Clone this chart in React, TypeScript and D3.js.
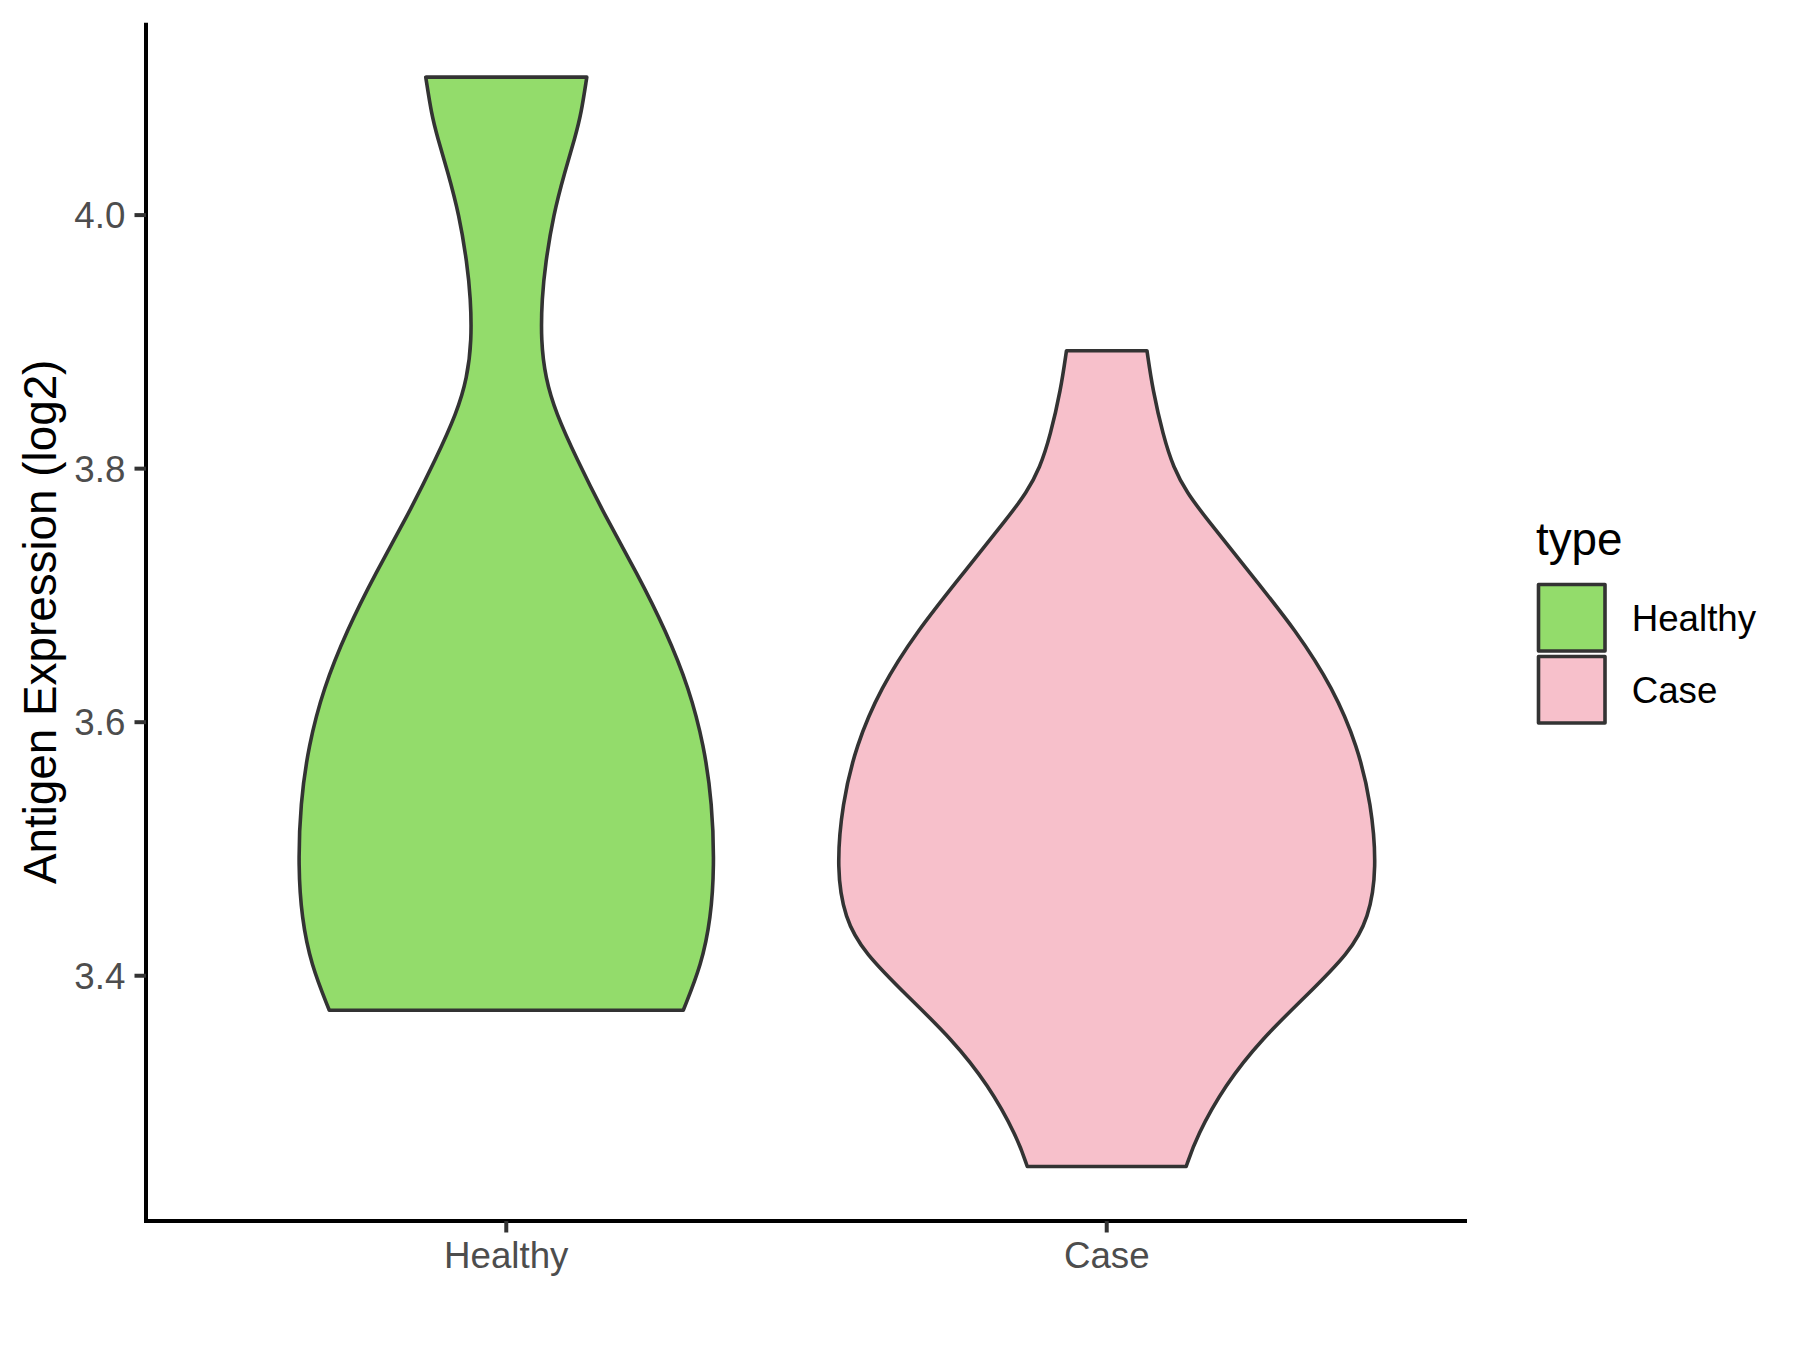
import React from "react";
import * as d3 from "d3";

const categories = ["Healthy", "Case"];
const fills = ["#93DC6B", "#F7C0CB"];

// Density profiles: value (log2) and relative half-width (Case max = 1)
const healthyValues = [3.3728, 3.4091, 3.4453, 3.4861, 3.5359, 3.5813, 3.6266, 3.6719, 3.7172, 3.7625, 3.8079, 3.8441, 3.8713, 3.9012, 3.9347, 3.9619, 4.0, 4.0344, 4.0616, 4.0798, 4.1088];
const healthyDensity = [0.655, 0.723, 0.757, 0.770, 0.762, 0.732, 0.677, 0.591, 0.485, 0.366, 0.260, 0.183, 0.145, 0.128, 0.132, 0.145, 0.174, 0.217, 0.255, 0.277, 0.298];

const caseValues = [3.2495, 3.2731, 3.314, 3.3502, 3.3837, 3.4181, 3.4453, 3.4843, 3.5359, 3.5813, 3.6266, 3.6719, 3.7172, 3.7625, 3.7807, 3.8006, 3.826, 3.8622, 3.893];
const caseDensity = [0.294, 0.332, 0.438, 0.574, 0.736, 0.898, 0.970, 1.0, 0.979, 0.928, 0.838, 0.702, 0.532, 0.362, 0.298, 0.247, 0.209, 0.170, 0.149];

const yTicks = [3.4, 3.6, 3.8, 4.0];
const yTitle = "Antigen Expression (log2)";
const legendTitle = "type";

const W = 1800, H = 1350;
const panel = { left: 146, right: 1467, top: 22.7, bottom: 1221 };
const FONT = "'Liberation Sans', Arial, sans-serif";

export default function App() {
  const dataMin = Math.min(d3.min(healthyValues)!, d3.min(caseValues)!);
  const dataMax = Math.max(d3.max(healthyValues)!, d3.max(caseValues)!);
  const pad = (dataMax - dataMin) * 0.05;
  const y = d3.scaleLinear().domain([dataMin - pad, dataMax + pad]).range([panel.bottom, panel.top]);
  const x = d3.scalePoint<string>().domain(categories).range([panel.left, panel.right]).padding(0.6);
  const step = x.step();
  const hwMax = 0.45 * step;

  const series = [
    { vals: healthyValues, dens: healthyDensity },
    { vals: caseValues, dens: caseDensity },
  ];

  const line = d3.line<[number, number]>().curve(d3.curveBasis);

  const violinPath = (cat: string, vals: number[], dens: number[]) => {
    const cx = x(cat)!;
    const left: [number, number][] = vals.map((v, i) => [cx - dens[i] * hwMax, y(v)]);
    const right: [number, number][] = vals.map((v, i) => [cx + dens[i] * hwMax, y(v)] as [number, number]).reverse();
    const p1 = line(left)!;
    const p2 = line(right)!.replace(/^M/, "L");
    return p1 + p2 + "Z";
  };

  return (
    <svg width={W} height={H} style={{ position: "absolute", left: 0, top: 0, background: "#fff" }}>
      <rect x={0} y={0} width={W} height={H} fill="#fff" />
      {categories.map((c, i) => (
        <path key={c} d={violinPath(c, series[i].vals, series[i].dens)} fill={fills[i]} stroke="#333333" strokeWidth={3.6} strokeLinejoin="round" />
      ))}
      <line x1={panel.left} x2={panel.left} y1={panel.top} y2={panel.bottom + 2} stroke="#000" strokeWidth={4} />
      <line x1={panel.left - 2} x2={panel.right} y1={panel.bottom} y2={panel.bottom} stroke="#000" strokeWidth={4} />
      {yTicks.map((t) => (
        <g key={t}>
          <line x1={panel.left - 11.5} x2={panel.left} y1={y(t)} y2={y(t)} stroke="#333333" strokeWidth={4} />
          <text x={panel.left - 11.5 - 9.2} y={y(t)} dy="0.36em" textAnchor="end" fontFamily={FONT} fontSize={36.7} fill="#4D4D4D">{t.toFixed(1)}</text>
        </g>
      ))}
      {categories.map((c) => (
        <g key={c}>
          <line x1={x(c)} x2={x(c)} y1={panel.bottom} y2={panel.bottom + 11.5} stroke="#333333" strokeWidth={4} />
          <text x={x(c)} y={1268} textAnchor="middle" fontFamily={FONT} fontSize={36.7} fill="#4D4D4D">{c}</text>
        </g>
      ))}
      <text transform={`translate(56,${(panel.top + panel.bottom) / 2}) rotate(-90)`} textAnchor="middle" fontFamily={FONT} fontSize={45.8} fill="#000">{yTitle}</text>
      <text x={1536} y={555} fontFamily={FONT} fontSize={45.8} fill="#000">{legendTitle}</text>
      {categories.map((c, i) => (
        <g key={c}>
          <rect x={1538.5} y={584.5 + i * 72} width={66.5} height={66.5} fill={fills[i]} stroke="#333333" strokeWidth={3.6} strokeLinejoin="round" />
          <text x={1631.7} y={630.5 + i * 72} fontFamily={FONT} fontSize={36.7} fill="#000">{c}</text>
        </g>
      ))}
    </svg>
  );
}
